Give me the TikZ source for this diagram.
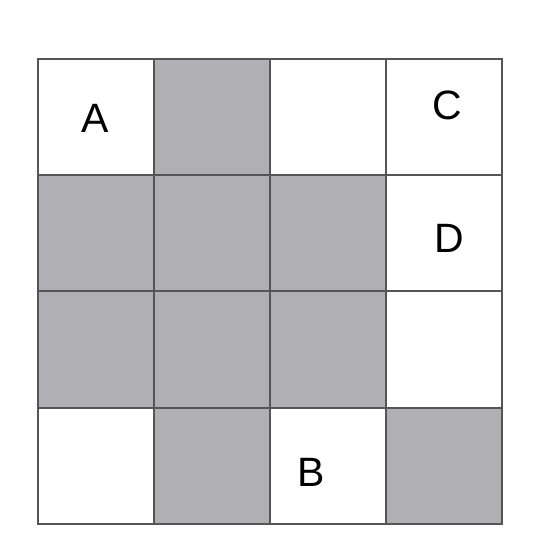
\documentclass[tikz,border=0pt]{standalone}
\usepackage{fontspec}
\setmainfont{Liberation Sans}
\definecolor{cellgray}{RGB}{176,176,180}
\definecolor{gridline}{RGB}{85,85,88}
\begin{document}
\begin{tikzpicture}[x=1pt,y=-1pt,
  gcell/.style={fill=cellgray,draw=none},
  lbl/.style={font=\fontsize{41}{48}\selectfont,inner sep=0pt}]
\useasboundingbox (0,0) rectangle (544,558);
% gray cells (column edges 38,154,270,386,502; row edges 59,175,291,408,524)
\fill[cellgray] (154,59) rectangle (270,175);
\fill[cellgray] (38,175) rectangle (386,408);
\fill[cellgray] (154,408) rectangle (270,524);
\fill[cellgray] (386,408) rectangle (502,524);
% grid
\draw[gridline,line width=1.5pt] (38,59) rectangle (502,524);
\foreach \x in {154,270,386} \draw[gridline,line width=1.3pt] (\x,59) -- (\x,524);
\foreach \y in {175,291,408} \draw[gridline,line width=1.3pt] (38,\y) -- (502,\y);
% labels
\node[lbl] (A) at (95,118) {A};
\node[lbl] (C) at (447,105) {C};
\node[lbl] (D) at (449,238) {D};
\node[lbl] (B) at (311,472) {B};
\end{tikzpicture}
\end{document}
